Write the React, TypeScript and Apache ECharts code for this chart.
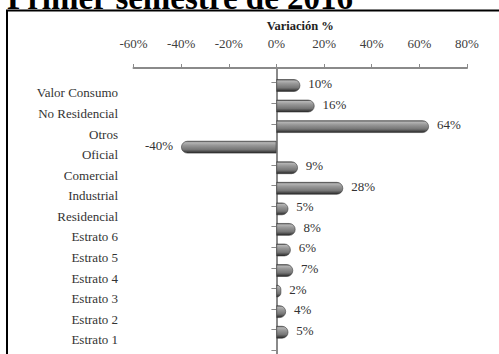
import React, { useEffect, useRef } from "react";
import * as echarts from "echarts";

const categories = [
  "Valor Consumo",
  "No Residencial",
  "Otros",
  "Oficial",
  "Comercial",
  "Industrial",
  "Residencial",
  "Estrato 6",
  "Estrato 5",
  "Estrato 4",
  "Estrato 3",
  "Estrato 2",
  "Estrato 1",
];
const variation = [10, 16, 64, -40, 9, 28, 5, 8, 6, 7, 2, 4, 5];
const xTicks = { min: -60, max: 80, interval: 20 };
const titleText = "Primer semestre de 2016";
const axisTitle = "Variación %";

const FONT = "Liberation Serif";

export default function App() {
  const ref = useRef<HTMLDivElement>(null);
  useEffect(() => {
    if (!ref.current) return;
    const chart = echarts.init(ref.current, undefined, { renderer: "svg" });
    const L = 133.5;
    const R = 32;
    const barGradient = new echarts.graphic.LinearGradient(0, 0, 0, 1, [
      { offset: 0, color: "#505050" },
      { offset: 0.12, color: "#b5b5b5" },
      { offset: 0.35, color: "#979797" },
      { offset: 0.7, color: "#767676" },
      { offset: 0.88, color: "#474747" },
      { offset: 1, color: "#222222" },
    ]);
    chart.setOption({
      animation: false,
      textStyle: { fontFamily: FONT },
      graphic: [
        {
          type: "rect",
          shape: { x: 7, y: 10.5, width: 560, height: 400 },
          style: { fill: "none", stroke: "#000", lineWidth: 2 },
          silent: true,
        },
        {
          type: "text",
          x: 180,
          y: 14.5,
          style: {
            text: titleText,
            fontFamily: FONT,
            fontWeight: "bold",
            fontSize: 33,
            fill: "#000",
            align: "center",
            verticalAlign: "bottom",
          },
        },
      ],
      grid: [
        { left: L, right: R, top: 82.7, bottom: 4 },
        { left: L, right: R, top: 68, bottom: 0 },
        { left: L, right: R, top: 75.2, bottom: 11.5 },
      ],
      xAxis: [
        {
          type: "value",
          gridIndex: 0,
          position: "top",
          offset: 14.7,
          min: xTicks.min,
          max: xTicks.max,
          interval: xTicks.interval,
          name: axisTitle,
          nameLocation: "middle",
          nameGap: 36,
          nameTextStyle: {
            fontFamily: FONT,
            fontWeight: "bold",
            fontSize: 12.5,
            color: "#222",
          },
          axisLine: { show: true, lineStyle: { color: "#8a8a8a", width: 2 } },
          axisTick: { show: true, length: 4, lineStyle: { color: "#8a8a8a" } },
          axisLabel: {
            formatter: "{value}%",
            margin: 18,
            fontFamily: FONT,
            fontSize: 13,
            color: "#404040",
          },
          splitLine: { show: false },
        },
        {
          type: "value",
          gridIndex: 1,
          min: xTicks.min,
          max: xTicks.max,
          show: false,
        },
        {
          type: "value",
          gridIndex: 2,
          min: xTicks.min,
          max: xTicks.max,
          show: false,
        },
      ],
      yAxis: [
        {
          type: "category",
          gridIndex: 0,
          data: categories,
          inverse: true,
          position: "left",
          axisLine: { show: false, onZero: false },
          axisTick: { show: false },
          axisLabel: {
            margin: 15.5,
            fontFamily: FONT,
            fontSize: 13,
            color: "#333",
          },
        },
        {
          type: "category",
          gridIndex: 0,
          data: categories,
          inverse: true,
          position: "left",
          axisLine: { show: false, onZero: true },
          axisTick: { show: true, length: 5, lineStyle: { color: "#8a8a8a" } },
          axisLabel: { show: false },
        },
        {
          type: "value",
          gridIndex: 1,
          position: "left",
          axisLine: {
            show: true,
            onZero: true,
            lineStyle: { color: "#8a8a8a", width: 2 },
          },
          axisTick: { show: false },
          axisLabel: { show: false },
          splitLine: { show: false },
        },
        {
          type: "category",
          gridIndex: 2,
          data: categories,
          inverse: true,
          show: false,
        },
      ],
      series: [
        {
          type: "bar",
          xAxisIndex: 2,
          yAxisIndex: 3,
          barWidth: 12.5,
          data: variation.map((v) => ({
            value: v,
            itemStyle: {
              borderRadius: v >= 0 ? [0, 6, 6, 0] : [6, 0, 0, 6],
            },
            label: { position: v >= 0 ? "right" : "left" },
          })),
          itemStyle: {
            color: barGradient,
            borderColor: "#3a3a3a",
            borderWidth: 0.6,
          },
          label: {
            show: true,
            formatter: "{c}%",
            distance: 8,
            offset: [0, -2],
            fontFamily: FONT,
            fontSize: 13,
            color: "#333",
          },
          z: 3,
        },
      ],
    });
    return () => chart.dispose();
  }, []);
  return (
    <div
      ref={ref}
      style={{ position: "fixed", left: 0, top: 0, width: 499, height: 354, background: "#fff" }}
    />
  );
}
